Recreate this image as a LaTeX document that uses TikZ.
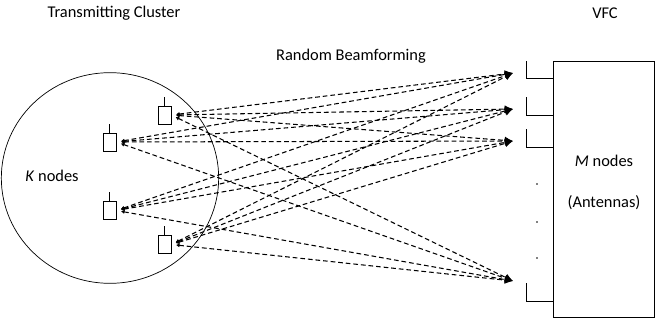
\documentclass[tikz,border=0pt]{standalone}
\usepackage{fontspec}
\setmainfont{Carlito}
\usetikzlibrary{arrows.meta}
\begin{document}
\begin{tikzpicture}[x=0.03cm,y=-0.03cm,font=\fontsize{14}{16}\selectfont,
    tx/.style={draw,line width=0.6pt,inner sep=0pt,minimum width=0.39cm,minimum height=0.54cm},
    beam/.style={line width=0.9pt,dash pattern=on 4pt off 2.5pt,shorten <=4pt,
      {Latex[length=3pt,width=3.5pt]}-{Latex[length=7pt,width=6.5pt]}}]
  \useasboundingbox (0,0) rectangle (655,320);
  % cluster
  \draw[line width=0.6pt] (110,178) ellipse [x radius=3.26cm,y radius=3.16cm];
  \node (K) at (52,176) {\textit{K} nodes};
  \node (TC) at (114,13) {Transmitting Cluster};
  \node (T1) at (164.5,115) [tx] {};
  \node (T2) at (109.5,142) [tx] {};
  \node (T3) at (109.5,210.5) [tx] {};
  \node (T4) at (164.5,244.5) [tx] {};
  \foreach \t in {T1,T2,T3,T4}
    \draw[line width=0.6pt] (\t.north) -- ++(0,-9);
  % VFC
  \node (VFC) at (553,61) [draw,line width=0.6pt,anchor=north west,inner sep=0pt,
    minimum width=3.03cm,minimum height=7.68cm] {};
  \node (V) at (605,13) {VFC};
  \node (M) at (604,161) {\textit{M} nodes};
  \node (A) at (604,203) {(Antennas)};
  \foreach \t/\b in {61/78,97/115,129/147,283/301}
    \draw[line width=0.6pt] (553,\b) -| (526,\t);
  \foreach \y in {184,222,258}
    \fill (537,\y) circle (0.7pt);
  \coordinate (R1) at (513,73);
  \coordinate (R2) at (513,109);
  \coordinate (R3) at (513,141);
  \coordinate (R4) at (513,281);
  \node (RB) at (351,56) {Random Beamforming};
  % beams
  \foreach \s in {T1,T2,T3,T4}
    \foreach \r in {R1,R2,R3,R4}
      \draw[beam] (\s.east) -- (\r);
\end{tikzpicture}
\end{document}
